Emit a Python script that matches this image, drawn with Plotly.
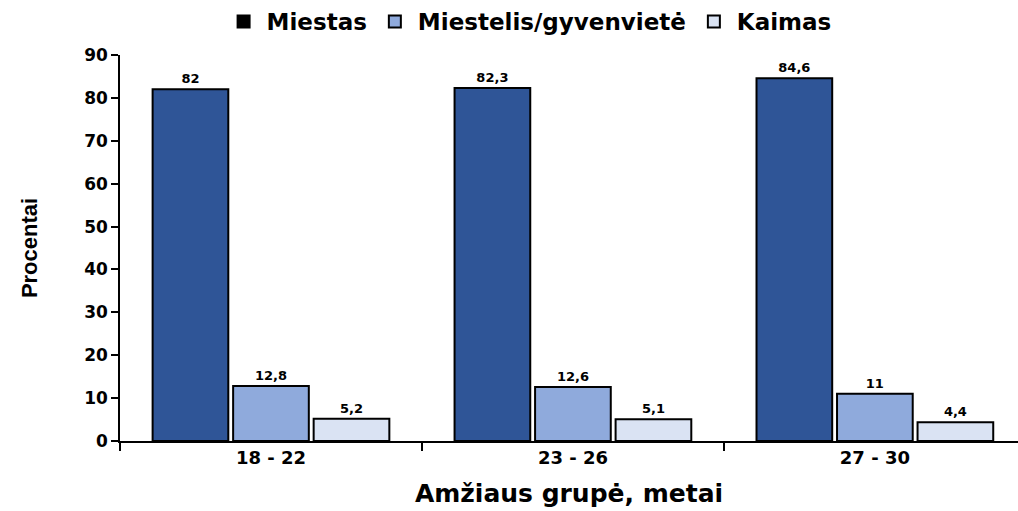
import plotly.graph_objects as go

# Age groups and share of respondents by place of residence (%)
age_groups = ["18 - 22", "23 - 26", "27 - 30"]
miestas = [82, 82.3, 84.6]
miestelis = [12.8, 12.6, 11]
kaimas = [5.2, 5.1, 4.4]

series_names = ["Miestas", "Miestelis/gyvenvietė", "Kaimas"]
series_values = [miestas, miestelis, kaimas]
bar_colors = ["#2F5597", "#8FAADC", "#DAE3F3"]
legend_colors = ["#000000", "#8FAADC", "#DAE3F3"]

BOLD = "DejaVu Sans"


def fmt(v):
    return f"{v:g}".replace(".", ",")


fig = go.Figure()
for name, vals, col in zip(series_names, series_values, bar_colors):
    fig.add_trace(go.Bar(
        x=age_groups, y=vals, name=name, showlegend=False,
        marker=dict(color=col, line=dict(color="#000000", width=2)),
        text=[fmt(v) for v in vals],
        textposition="outside",
        textfont=dict(family=BOLD, size=13, color="#000000", weight="bold"),
        cliponaxis=False,
    ))

# Legend entries as square markers
for name, col in zip(series_names, legend_colors):
    fig.add_trace(go.Scatter(
        x=[None], y=[None], mode="markers", name=name,
        marker=dict(symbol="square", size=17, color=col,
                    line=dict(color="#000000", width=1.5)),
    ))

fig.update_layout(
    width=1018, height=511,
    paper_bgcolor="white", plot_bgcolor="white",
    margin=dict(l=120, r=0, t=55, b=70),
    barmode="group", bargap=0.2, bargroupgap=0.06,
    legend=dict(orientation="h", x=0.455, xanchor="center", y=1.0, yanchor="top",
                yref="container",
                font=dict(family=BOLD, size=23, color="#000000", weight="bold"),
                itemsizing="constant", traceorder="normal", itemwidth=36),
    showlegend=True,
)

fig.update_xaxes(
    range=[-0.5, 2.474],
    showline=True, linecolor="#000000", linewidth=1.5,
    ticks="outside", tickson="boundaries", ticklen=8, tickcolor="#000000", tickwidth=1.5,
    tickfont=dict(family=BOLD, size=18, color="#000000", weight="bold"),
    title=dict(text="Amžiaus grupė, metai",
               font=dict(family=BOLD, size=25, color="#000000", weight="bold"), standoff=17),
    showgrid=False, zeroline=False,
)
fig.update_yaxes(
    range=[0, 90], dtick=10,
    showline=True, linecolor="#000000", linewidth=1.5,
    ticks="outside", ticklen=7, tickcolor="#000000", tickwidth=1.5,
    tickfont=dict(family=BOLD, size=17, color="#000000", weight="bold"),
    title=dict(text="Procentai",
               font=dict(family="Liberation Sans", size=22,
                         color="#000000", weight="bold"),
               standoff=40),
    showgrid=False, zeroline=False,
)
fig.update_traces(selector=dict(type="bar"), textangle=0)

fig.write_html("out.html")
